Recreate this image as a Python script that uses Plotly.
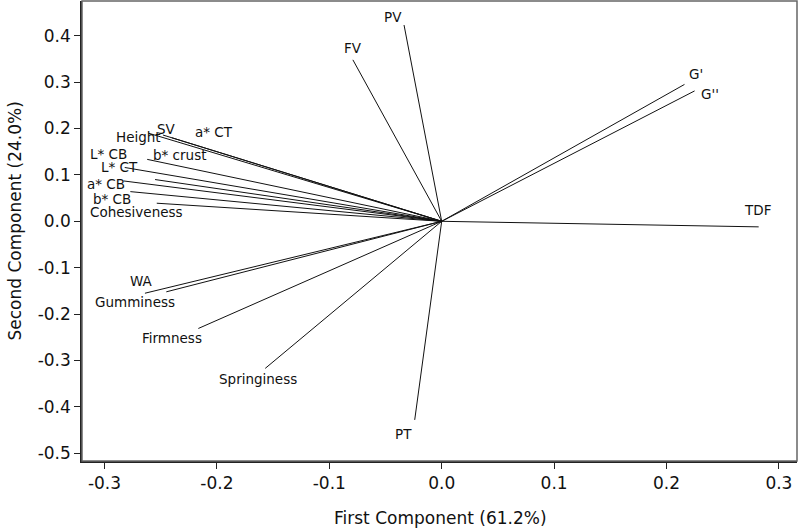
import plotly.graph_objects as go

# ---- data: loading vectors (PC1, PC2) ----
variables = ["PV", "FV", "G'", "G''", "TDF", "PT", "Springiness", "Firmness",
             "WA", "Gumminess", "Height", "SV", "a* CT", "L* CB", "b* crust",
             "L* CT", "a* CB", "b* CB", "Cohesiveness"]
pc1 = [-0.0335, -0.079, 0.216, 0.225, 0.282, -0.024, -0.157, -0.2165,
       -0.245, -0.264, -0.261, -0.248, -0.240, -0.262, -0.255,
       -0.282, -0.283, -0.277, -0.2535]
pc2 = [0.423, 0.348, 0.295, 0.281, -0.012, -0.428, -0.317, -0.231,
       -0.152, -0.155, 0.190, 0.186, 0.180, 0.1335, 0.090,
       0.116, 0.087, 0.064, 0.039]

# label anchor positions (data coordinates)
label_x = [-0.0433, -0.079, 0.226, 0.239, 0.2806, -0.0336, -0.1634, -0.240,
           -0.2667, -0.2728, -0.2693, -0.2444, -0.2026, -0.296, -0.2333,
           -0.2862, -0.2987, -0.2929, -0.2714]
label_y = [0.440, 0.3735, 0.3175, 0.2744, 0.0244, -0.4584, -0.340, -0.2515,
           -0.1287, -0.1739, 0.1815, 0.1989, 0.1935, 0.146, 0.1429,
           0.117, 0.080, 0.049, 0.0211]

x_ticks = [-0.3, -0.2, -0.1, 0.0, 0.1, 0.2, 0.3]
x_tick_text = ["-0.3", "-0.2", "-0.1", "0.0", "0.1", "0.2", "0.3"]
y_ticks = [-0.5, -0.4, -0.3, -0.2, -0.1, 0.0, 0.1, 0.2, 0.3, 0.4]
y_tick_text = ["-0.5", "-0.4", "-0.3", "-0.2", "-0.1", "0.0", "0.1", "0.2", "0.3", "0.4"]

x_title = "First Component (61.2%)"
y_title = "Second Component (24.0%)"

FONT = "DejaVu Sans"

# build segments from origin
xs, ys = [], []
for a, b in zip(pc1, pc2):
    xs += [0, a, None]
    ys += [0, b, None]

fig = go.Figure()
fig.add_trace(go.Scatter(x=xs, y=ys, mode="lines",
                         line=dict(color="#111111", width=1),
                         hoverinfo="skip", showlegend=False))

annotations = []
for name, lx, ly in zip(variables, label_x, label_y):
    annotations.append(dict(x=lx, y=ly, xref="x", yref="y", text=name,
                            showarrow=False, xanchor="center", yanchor="middle",
                            font=dict(family=FONT, size=13.5, color="#111111")))

annotations.append(dict(x=-0.0015, y=-0.1239, xref="x", yref="paper", text=x_title,
                        showarrow=False, xanchor="center", yanchor="middle",
                        font=dict(family=FONT, size=17, color="#111111")))
annotations.append(dict(x=-0.0937, y=0.5207, xref="paper", yref="paper", text=y_title,
                        showarrow=False, xanchor="center", yanchor="middle", textangle=-90,
                        font=dict(family=FONT, size=17, color="#111111")))

fig.update_layout(
    width=799, height=531,
    margin=dict(l=82, r=2, t=1, b=70, autoexpand=False),
    paper_bgcolor="white", plot_bgcolor="white",
    annotations=annotations,
    font=dict(family=FONT, size=17, color="#111111"),
    shapes=[dict(type="rect", xref="paper", yref="paper", x0=0, x1=1, y0=0, y1=1,
                 line=dict(color="#666666", width=1.5), layer="above")],
    xaxis=dict(range=[-0.3200, 0.3161], tickmode="array", tickvals=x_ticks,
               ticktext=x_tick_text, ticks="outside", ticklen=6, tickwidth=1,
               tickcolor="#222222", showline=True, linecolor="#222222", linewidth=1.5,
               showgrid=False, zeroline=False, fixedrange=True, automargin=False,
               tickfont=dict(family=FONT, size=17, color="#111111")),
    yaxis=dict(range=[-0.5166, 0.4748], tickmode="array", tickvals=y_ticks,
               ticktext=y_tick_text, ticks="outside", ticklen=6, tickwidth=1,
               tickcolor="#222222", showline=True, linecolor="#222222", linewidth=1.5,
               showgrid=False, zeroline=False, fixedrange=True, automargin=False,
               tickfont=dict(family=FONT, size=17, color="#111111")),
)

fig.write_html("out.html", config={"displayModeBar": False},
               post_script="document.body.style.margin='0px';document.body.style.overflow='hidden';")
